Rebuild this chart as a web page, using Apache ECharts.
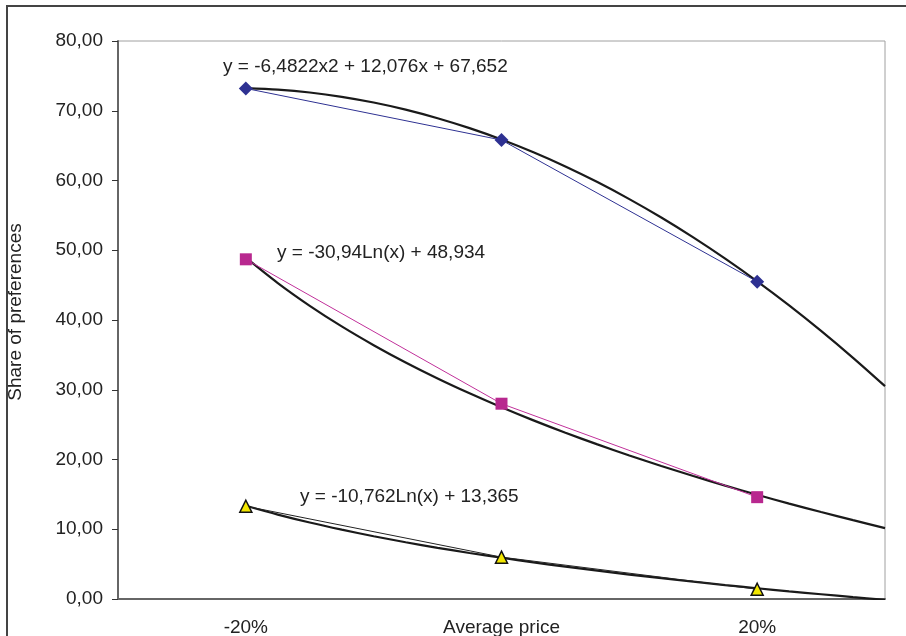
<!DOCTYPE html>
<html>
<head>
<meta charset="utf-8">
<script src="https://cdn.jsdelivr.net/npm/echarts@6/dist/echarts.min.js"></script>
<style>
  html, body { margin: 0; padding: 0; background: #fff; }
  #chart { width: 906px; height: 636px; }
</style>
</head>
<body>
<div id="chart"></div>
<script>
var categories = ['-20%', 'Average price', '20%']

// observed shares
var seriesA = [73.2, 65.8, 45.5]
var seriesB = [48.7, 28.0, 14.6]
var seriesC = [13.3, 6.0, 1.4]

// trend curves (x = category position 1..3, forecast to 3.5)
var trendX = [1, 1.125, 1.25, 1.375, 1.5, 1.625, 1.75, 1.875, 2, 2.125, 2.25,
  2.375, 2.5, 2.625, 2.75, 2.875, 3, 3.125, 3.25, 3.375, 3.5]
var trendA = [73.25, 73.03, 72.62, 72.00, 71.18, 70.16, 68.93, 67.51, 65.88, 64.04, 62.01,
  59.77, 57.33, 54.69, 51.84, 48.79, 45.54, 42.09, 38.43, 34.57, 30.51]
var trendB = [48.93, 45.29, 42.03, 39.08, 36.39, 33.91, 31.62, 29.49, 27.49, 25.61, 23.84,
  22.17, 20.58, 19.07, 17.63, 16.26, 14.94, 13.68, 12.47, 11.30, 10.17]
var trendC = [13.37, 12.10, 10.96, 9.94, 9.00, 8.14, 7.34, 6.60, 5.91, 5.25, 4.64,
  4.06, 3.50, 2.98, 2.48, 2.00, 1.54, 1.10, 0.68, 0.27, -0.12]

var labels = [
  'y = -6,4822x2 + 12,076x + 67,652',
  'y = -30,94Ln(x) + 48,934',
  'y = -10,762Ln(x) + 13,365'
]

var font = '"Liberation Sans", Arial, sans-serif'

function pairs (xs, ys) {
  return xs.map(function (x, i) { return [x, ys[i]] })
}

function trend (ys) {
  return {
    type: 'line',
    xAxisIndex: 1,
    data: pairs(trendX, ys),
    smooth: 0.3,
    showSymbol: false,
    symbol: 'none',
    lineStyle: { color: '#1a1a1a', width: 2.2 },
    z: 3,
    silent: true
  }
}

var chart = echarts.init(document.getElementById('chart'))
chart.setOption({
  animation: false,
  textStyle: { fontFamily: font },
  grid: {
    left: 118, right: 21, top: 41, bottom: 37,
    outerBoundsMode: 'none',
    containLabel: false,
    show: true, borderColor: '#a0a0a0', borderWidth: 1
  },
  xAxis: [{
    type: 'category',
    data: categories,
    boundaryGap: true,
    axisLine: { lineStyle: { color: '#666', width: 2 } },
    axisTick: { length: 6, lineStyle: { color: '#333' } },
    axisLabel: { color: '#222', fontSize: 19, margin: 19, fontFamily: font }
  }, {
    type: 'value',
    min: 0.5, max: 3.5,
    show: false
  }],
  yAxis: {
    type: 'value',
    min: 0, max: 80, interval: 10,
    name: 'Share of preferences',
    nameLocation: 'middle',
    nameGap: 93,
    nameTextStyle: { color: '#222', fontSize: 19, fontFamily: font, padding: [0, 0, 0, 16] },
    axisLine: { show: true, lineStyle: { color: '#666', width: 2 } },
    axisTick: { show: true, length: 6, lineStyle: { color: '#333' } },
    splitLine: { show: false },
    axisLabel: {
      color: '#222', fontSize: 19, margin: 15, fontFamily: font,
      formatter: function (v) { return v.toFixed(2).replace('.', ',') }
    }
  },
  graphic: [
    { type: 'rect', shape: { x: 7, y: 6, width: 910, height: 640 },
      style: { fill: 'none', stroke: '#444', lineWidth: 2 }, silent: true },
    { type: 'text', left: 223, top: 57, style: { text: labels[0], fill: '#222', font: '19px ' + font } },
    { type: 'text', left: 277, top: 243, style: { text: labels[1], fill: '#222', font: '19px ' + font } },
    { type: 'text', left: 300, top: 487, style: { text: labels[2], fill: '#222', font: '19px ' + font } }
  ],
  series: [
    {
      type: 'line', data: seriesA,
      symbol: 'diamond', symbolSize: 14,
      itemStyle: { color: '#2e3192' },
      lineStyle: { color: '#2e3192', width: 1 },
      z: 4
    },
    {
      type: 'line', data: seriesB,
      symbol: 'rect', symbolSize: 12,
      itemStyle: { color: '#b8288f' },
      lineStyle: { color: '#c0309a', width: 1 },
      z: 4
    },
    {
      type: 'line', data: seriesC,
      symbol: 'triangle', symbolSize: 12,
      itemStyle: { color: '#f2e600', borderColor: '#111', borderWidth: 1.5 },
      lineStyle: { color: '#222', width: 1 },
      z: 4
    },
    trend(trendA),
    trend(trendB),
    trend(trendC)
  ]
})
</script>
</body>
</html>
